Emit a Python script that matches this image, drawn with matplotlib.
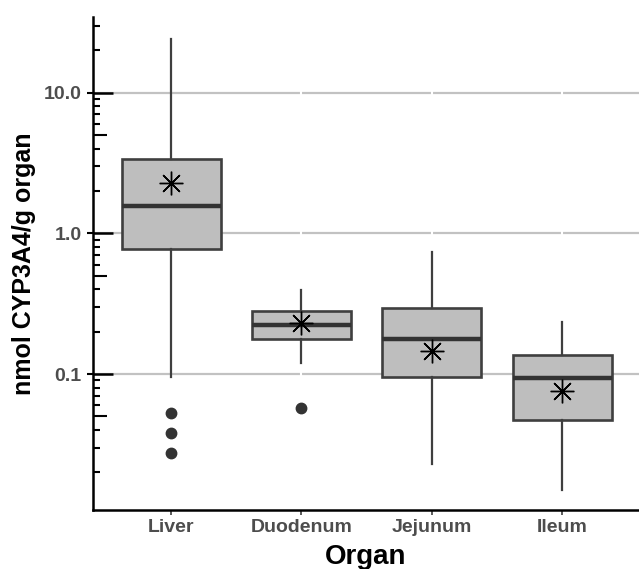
import numpy as np
import matplotlib
matplotlib.use("Agg")
import matplotlib.pyplot as plt
from matplotlib.ticker import FixedLocator, NullLocator, FixedFormatter

organs = ["Liver", "Duodenum", "Jejunum", "Ileum"]
q1 = [0.774, 0.177, 0.0946, 0.047]
median = [1.57, 0.223, 0.177, 0.093]
q3 = [3.38, 0.282, 0.294, 0.136]
whis_lo = [0.0957, 0.119, 0.0229, 0.0151]
whis_hi = [24.1, 0.396, 0.741, 0.236]
means = [2.28, 0.229, 0.145, 0.0759]
outliers = [[0.0525, 0.0378, 0.0275], [0.057], [], []]

major_vals = [0.1, 1.0, 10.0]
major_labels = ["0.1", "1.0", "10.0"]

plt.rcParams["font.family"] = ["Liberation Sans", "DejaVu Sans"]
plt.rcParams["font.weight"] = "bold"

fig = plt.figure(figsize=(6.39, 5.69), dpi=100)
ax = fig.add_axes([93 / 639, 1 - 510 / 569, 546 / 639, 493 / 569])

pos = np.arange(1, len(organs) + 1)
stats = []
for i in range(len(organs)):
    stats.append({"med": median[i], "q1": q1[i], "q3": q3[i],
                  "whislo": whis_lo[i], "whishi": whis_hi[i],
                  "fliers": outliers[i], "label": organs[i]})

ax.bxp(stats, positions=pos, widths=0.76, patch_artist=True, showcaps=False,
       boxprops=dict(facecolor="#bebebe", edgecolor="#3f3f3f", linewidth=1.9),
       medianprops=dict(color="#333333", linewidth=3.2, solid_capstyle="butt"),
       whiskerprops=dict(color="#3f3f3f", linewidth=1.6),
       flierprops=dict(marker="o", markerfacecolor="#333333", markeredgecolor="#333333",
                       markersize=7.5),
       zorder=3)
ax.plot(pos, means, linestyle="none", marker=(8, 2, 0), markersize=17,
        markeredgewidth=1.0, color="black", zorder=5)

ax.set_yscale("log")
ax.set_ylim(0.0108, 34.5)
ax.set_xlim(0.4, 4.59)

# grid, with the small white breaks at each organ
for v in major_vals:
    ax.axhline(v, color="#c2c2c2", linewidth=1.6, zorder=0)
ax.vlines(pos, 0.0108, 34.5, color="white", linewidth=1.5, zorder=1)

# y ticks
ax.yaxis.set_major_locator(FixedLocator(major_vals))
ax.yaxis.set_major_formatter(FixedFormatter(major_labels))
ax.yaxis.set_minor_locator(NullLocator())
ax.tick_params(axis="y", which="major", direction="out", length=4.3, width=1.5,
               color="black", labelsize=14, labelcolor="#4d4d4d", pad=4)
short_ticks = []
long_ticks = []
for d in [0.01, 0.1, 1.0, 10.0]:
    for s in [2, 3, 4, 6, 7, 8, 9]:
        short_ticks.append(d * s)
    long_ticks.append(d * 5)
ax.hlines(short_ticks, 0, 7 / 546, transform=ax.get_yaxis_transform(),
          color="black", linewidth=1.5, clip_on=True)
ax.hlines(long_ticks, 0, 14 / 546, transform=ax.get_yaxis_transform(),
          color="black", linewidth=1.5, clip_on=True)
ax.hlines(major_vals, 0, 20 / 546, transform=ax.get_yaxis_transform(),
          color="black", linewidth=1.8, zorder=4)

# x ticks
ax.set_xticks(pos)
ax.set_xticklabels(organs)
ax.tick_params(axis="x", direction="out", length=3.5, width=1.3, color="#4d4d4d",
               labelsize=14, labelcolor="#4d4d4d", pad=3)

for side in ["top", "right"]:
    ax.spines[side].set_visible(False)
for side in ["left", "bottom"]:
    ax.spines[side].set_linewidth(1.8)
    ax.spines[side].set_color("black")

ax.set_ylabel("nmol CYP3A4/g organ", fontsize=18, fontweight="bold", color="black")
ax.yaxis.set_label_coords(-0.105, 0.5)
ax.set_xlabel("Organ", fontsize=20, fontweight="bold", color="black", labelpad=6)

fig.savefig("out.png", dpi=100)
